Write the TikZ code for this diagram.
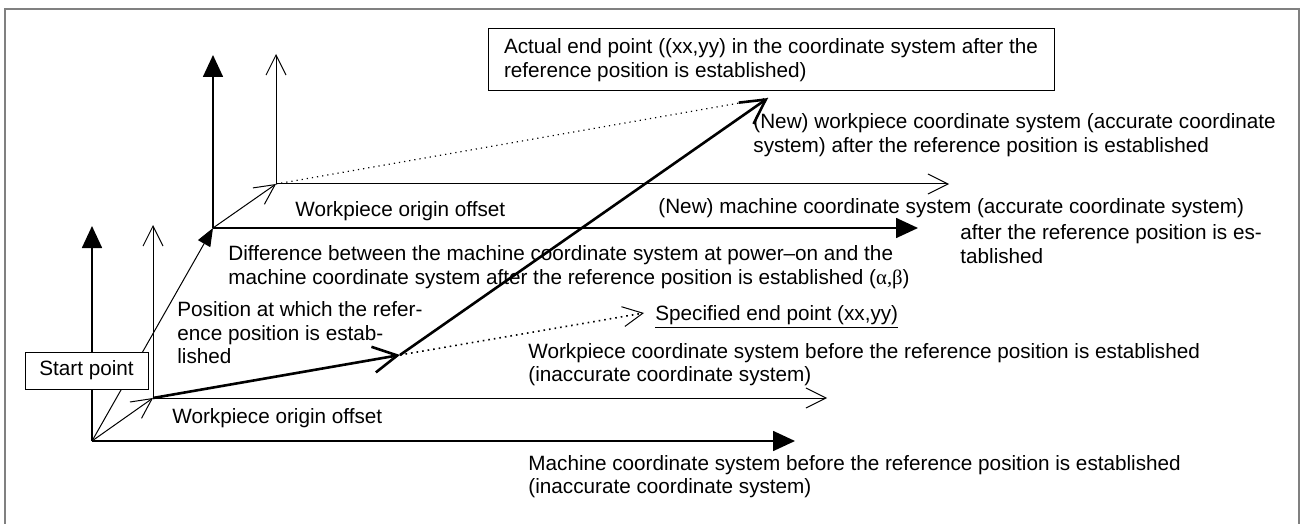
\documentclass[tikz,border=0pt]{standalone}
\usepackage{fontspec}
\setmainfont{Liberation Sans}
\newfontfamily\greekfont{Liberation Serif}
\usetikzlibrary{arrows.meta}

\begin{document}
\begin{tikzpicture}[x=0.5pt,y=-0.5pt,
  font=\fontsize{10.35}{11.75}\selectfont,
  machaxis/.style={line width=0.85pt,-{Triangle[length=11pt,width=10pt]}},
  wpaxis/.style={line width=0.5pt,-{Straight Barb[length=10pt,width=10pt]}},
  movepath/.style={line width=1.3pt,-{Straight Barb[length=12pt,width=13pt]}},
  lbl/.style={anchor=west,align=left,inner sep=0pt}]

\useasboundingbox (0,0) rectangle (1302,524);

% frame
\draw[gray,line width=1pt] (5,524)--(5,9)--(1299,9)--(1299,524);

% origins and end points
\coordinate (O1) at (92,441);
\coordinate (W1) at (153,398);
\coordinate (M2) at (213,228);
\coordinate (W2) at (276,184);
\coordinate (P) at (400,355);
\coordinate (E) at (768,98);
\coordinate (S) at (644,313);

% axis tips
\coordinate (O1x) at (795,441);
\coordinate (O1y) at (92,226);
\coordinate (W1x) at (827,398);
\coordinate (W1y) at (153,225);
\coordinate (M2x) at (918,228);
\coordinate (M2y) at (213,55);
\coordinate (W2x) at (949,184);
\coordinate (W2y) at (276,54);

% machine coordinate systems
\draw[machaxis] (O1)--(O1x);
\draw[machaxis] (O1)--(O1y);
\draw[machaxis] (M2)--(M2x);
\draw[machaxis] (M2)--(M2y);

% workpiece coordinate systems
\draw[wpaxis] (W1)--(W1x);
\draw[wpaxis] (W1)--(W1y);
\draw[wpaxis] (W2)--(W2x);
\draw[wpaxis] (W2)--(W2y);

% offsets
\draw[line width=0.5pt,-{Triangle[length=9pt,width=7pt]}] (O1)--(M2);
\draw[wpaxis] (O1)--(W1);
\draw[wpaxis] (M2)--(W2);

% movement
\draw[dotted,line width=0.6pt] (W2)--(E);
\draw[dotted,line width=0.8pt,-{Straight Barb[length=10pt,width=10pt,line width=0.5pt]}] (P)--(S);
\draw[movepath] (W1)--(P);
\draw[movepath] (P)--(E);

\node[draw,fill=white,line width=0.5pt,minimum width=61.5pt,minimum height=18.5pt,inner sep=0pt] (start) at (86.5,370.5) {Start point};

\node[draw,line width=0.5pt,align=left,minimum width=283pt,minimum height=31pt,inner sep=0pt] (actual) at (771,60)
  {Actual end point ((xx,yy) in the coordinate system after the\\reference position is established)};

\node[lbl] (newwp) at (753,135) {(New) workpiece coordinate system (accurate coordinate\\system) after the reference position is established};
\node[lbl] (newmc) at (658,208) {(New) machine coordinate system (accurate coordinate system)};
\node[lbl] (newmc2) at (960,244) {after the reference position is es-\\tablished};
\node[lbl] (wpoff2) at (295,211) {Workpiece origin offset};
\node[lbl] (diff) at (228,267) {Difference between the machine coordinate system at power--on and the\\machine coordinate system after the reference position is established ({\greekfont α,β})};
\node[lbl] (refpos) at (177,333) {Position at which the refer-\\ence position is estab-\\lished};
\node[lbl] (spec) at (655,317) {\underline{Specified end point (xx,yy)}};
\node[lbl] (oldwp) at (528,364.5) {Workpiece coordinate system before the reference position is established\\(inaccurate coordinate system)};
\node[lbl] (wpoff1) at (172,418) {Workpiece origin offset};
\node[lbl] (oldmc) at (528,476.5) {Machine coordinate system before the reference position is established\\(inaccurate coordinate system)};

\end{tikzpicture}
\end{document}
